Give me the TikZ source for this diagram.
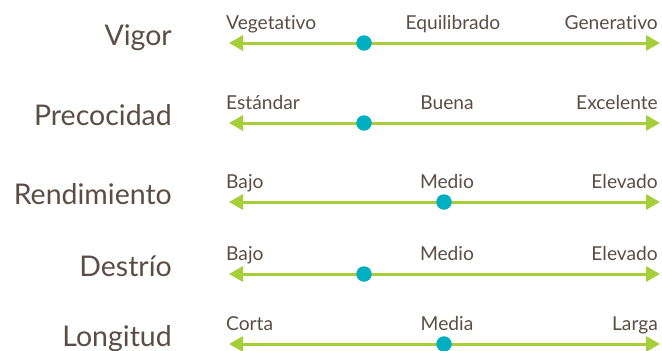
\documentclass[tikz,border=0pt]{standalone}
\usepackage{fontspec}
\setmainfont{Lato}[RawFeature={-liga;-dlig}]
\usetikzlibrary{arrows.meta}
\definecolor{txt}{HTML}{5B4D46}
\definecolor{lime}{HTML}{A6CE39}
\definecolor{teal}{HTML}{00B0C1}
\tikzset{
  rowlabel/.style={anchor=base east, inner sep=0pt, text=txt, font=\fontsize{28.5}{30}\selectfont},
  small/.style={anchor=base, inner sep=0pt, text=txt, font=\fontsize{19.2}{20}\selectfont},
  scale line/.style={draw=lime, line width=3pt, {Triangle[length=14pt,width=15pt]}-{Triangle[length=14pt,width=15pt]}},
  marker/.style={circle, fill=teal, minimum size=15.5pt, inner sep=0pt}
}
\begin{document}
\begin{tikzpicture}[x=1pt,y=-1pt]
\useasboundingbox (0,0) rectangle (662,351);
% rows
\foreach \n/\lab/\ly/\lo/\mi/\hi/\mx/\dx in {
  a/Vigor/43/Vegetativo/Equilibrado/Generativo/453/364,
  b/Precocidad/123/Estándar/Buena/Excelente/447/364,
  c/Rendimiento/202/Bajo/Medio/Elevado/447/444,
  d/Destrío/274/Bajo/Medio/Elevado/447/364,
  e/Longitud/344/Corta/Media/Larga/447/444}{
  \node[rowlabel] (\n-lab) at (172,\ly+2) {\lab};
  \coordinate (\n-l) at (229,\ly);
  \coordinate (\n-r) at (660,\ly);
  \draw[scale line] (\n-l) -- (\n-r);
  \node[marker] (\n-dot) at (\dx,\ly) {};
  \node[small, anchor=base west] (\n-lo) at (226,\ly-14) {\lo};
  \node[small] (\n-mi) at (\mx,\ly-14) {\mi};
  \node[small, anchor=base east] (\n-hi) at (658,\ly-14) {\hi};
}
\end{tikzpicture}
\end{document}
